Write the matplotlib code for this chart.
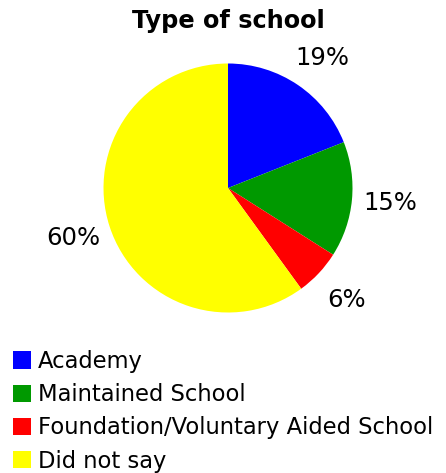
import matplotlib.pyplot as plt
from matplotlib.patches import Patch

labels = ["Academy", "Maintained School", "Foundation/Voluntary Aided School", "Did not say"]
shares = [19, 15, 6, 60]
colors = ["#0000ff", "#009900", "#ff0000", "#ffff00"]

W, H = 446, 473
fig = plt.figure(figsize=(W / 100, H / 100), dpi=100)
plt.rcParams["font.family"] = "DejaVu Sans"

# pie centred at (228, 188) px with a radius of ~124.5 px
r = 124.5
cx, cy = 228, 188
ax = fig.add_axes([(cx - r) / W, (H - cy - r) / H, 2 * r / W, 2 * r / H])
ax.pie(shares, colors=colors, startangle=90, counterclock=False,
       labels=[f"{v}%" for v in shares], labeldistance=1.31,
       textprops={"fontsize": 17.5, "ha": "center", "va": "center"},
       wedgeprops={"linewidth": 0})
for t in ax.texts:
    t.set_horizontalalignment("center")
# the first label sits a little lower and further right
x0, y0 = ax.texts[0].get_position()
ax.texts[0].set_position((x0 + 0.02, y0 - 0.04))
ax.set_xlim(-1, 1)
ax.set_ylim(-1, 1)
ax.set_aspect("equal")
ax.axis("off")

fig.text(228 / W, 1 - 21 / H, "Type of school", ha="center", va="center",
         fontsize=17.3, fontweight="bold")

handles = [Patch(facecolor=c, edgecolor="none") for c in colors]
fs = 16.3
fig.legend(handles, labels, loc="upper left", bbox_to_anchor=(13 / W, 1 - 350 / H),
           frameon=False, fontsize=fs, handlelength=0.8, handleheight=0.8,
           handletextpad=0.3, labelspacing=0.45, borderpad=0, borderaxespad=0)

fig.savefig("out.png", dpi=100)
